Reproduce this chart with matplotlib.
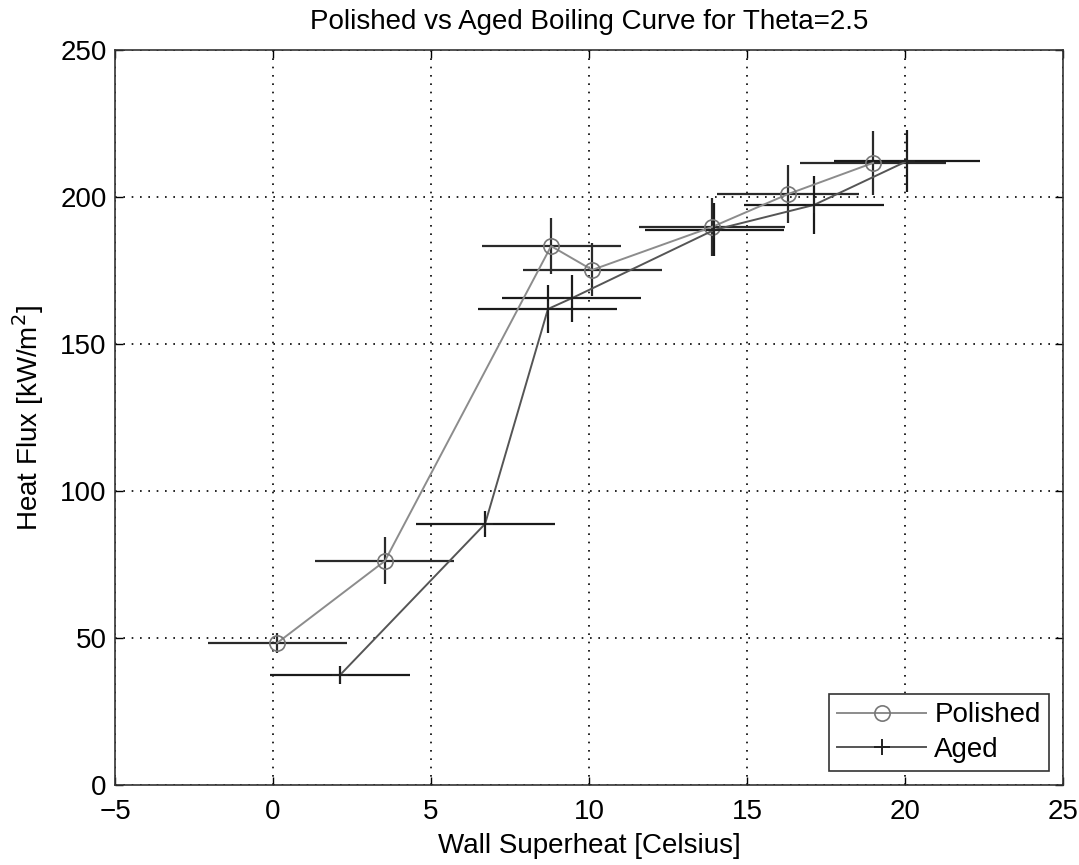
import numpy as np
import matplotlib.pyplot as plt

plt.rcParams['font.family'] = ['Liberation Sans', 'DejaVu Sans']

# Polished surface
pol_x = [0.13, 3.54, 8.80, 10.10, 13.89, 16.30, 18.99]
pol_y = [48.3, 76.2, 183.3, 175.2, 189.8, 201.0, 211.6]
pol_xerr = [2.2, 2.2, 2.2, 2.2, 2.3, 2.25, 2.3]
pol_yerr = [3.5, 8.0, 9.5, 9.0, 10.0, 10.0, 11.0]

# Aged surface
aged_x = [2.12, 6.71, 8.70, 9.46, 13.96, 17.12, 20.06]
aged_y = [37.4, 88.8, 161.9, 165.6, 188.8, 197.3, 212.2]
aged_xerr = [2.2, 2.2, 2.2, 2.2, 2.2, 2.2, 2.3]
aged_yerr = [3.0, 4.5, 8.0, 8.0, 9.0, 10.0, 10.5]

fig = plt.figure(figsize=(10.79, 8.65), dpi=100)
ax = fig.add_axes([0.1066, 0.0925, 0.8786, 0.8497])

# error bars without caps
ax.errorbar(pol_x, pol_y, xerr=pol_xerr, yerr=pol_yerr, fmt='none',
            ecolor='#2a2a2a', elinewidth=1.6, capsize=0, zorder=2)
ax.errorbar(aged_x, aged_y, xerr=aged_xerr, yerr=aged_yerr, fmt='none',
            ecolor='#1a1a1a', elinewidth=1.6, capsize=0, zorder=2)

# connecting lines + markers
ax.plot(pol_x, pol_y, color='#8c8c8c', lw=1.4, marker='o', ms=11,
        mfc='none', mec='#777777', mew=1.2, label='Polished', zorder=3)
ax.plot(aged_x, aged_y, color='#555555', lw=1.4, marker='+', ms=12,
        mec='#222222', mew=1.4, label='Aged', zorder=3)

ax.set_xlim(-5, 25)
ax.set_ylim(0, 250)
ax.set_xticks(np.arange(-5, 26, 5))
ax.set_yticks(np.arange(0, 251, 50))
ax.set_xticklabels(['\u22125', '0', '5', '10', '15', '20', '25'])

ax.grid(True, linestyle=(0, (1, 4)), color='black', linewidth=1.2)
ax.tick_params(direction='in', top=True, right=True, labelsize=20, length=6, width=1)
ax.tick_params(axis='x', pad=10)
ax.tick_params(axis='y', pad=6)
for s in ax.spines.values():
    s.set_linewidth(1.2)
    s.set_color('#333333')

ax.set_title('Polished vs Aged Boiling Curve for Theta=2.5', fontsize=20, pad=15)
ax.set_xlabel('Wall Superheat [Celsius]', fontsize=20, labelpad=6)
ax.set_ylabel('Heat Flux [kW/m$^2$]', fontsize=20, labelpad=10)

leg = ax.legend(loc='lower right', fontsize=20, fancybox=False, framealpha=1,
                edgecolor='#333333', handlelength=3.2, borderaxespad=0.5,
                handletextpad=0.3, labelspacing=0.3, borderpad=0.3)
leg.get_frame().set_linewidth(1.2)

fig.savefig('out.png', dpi=100)
